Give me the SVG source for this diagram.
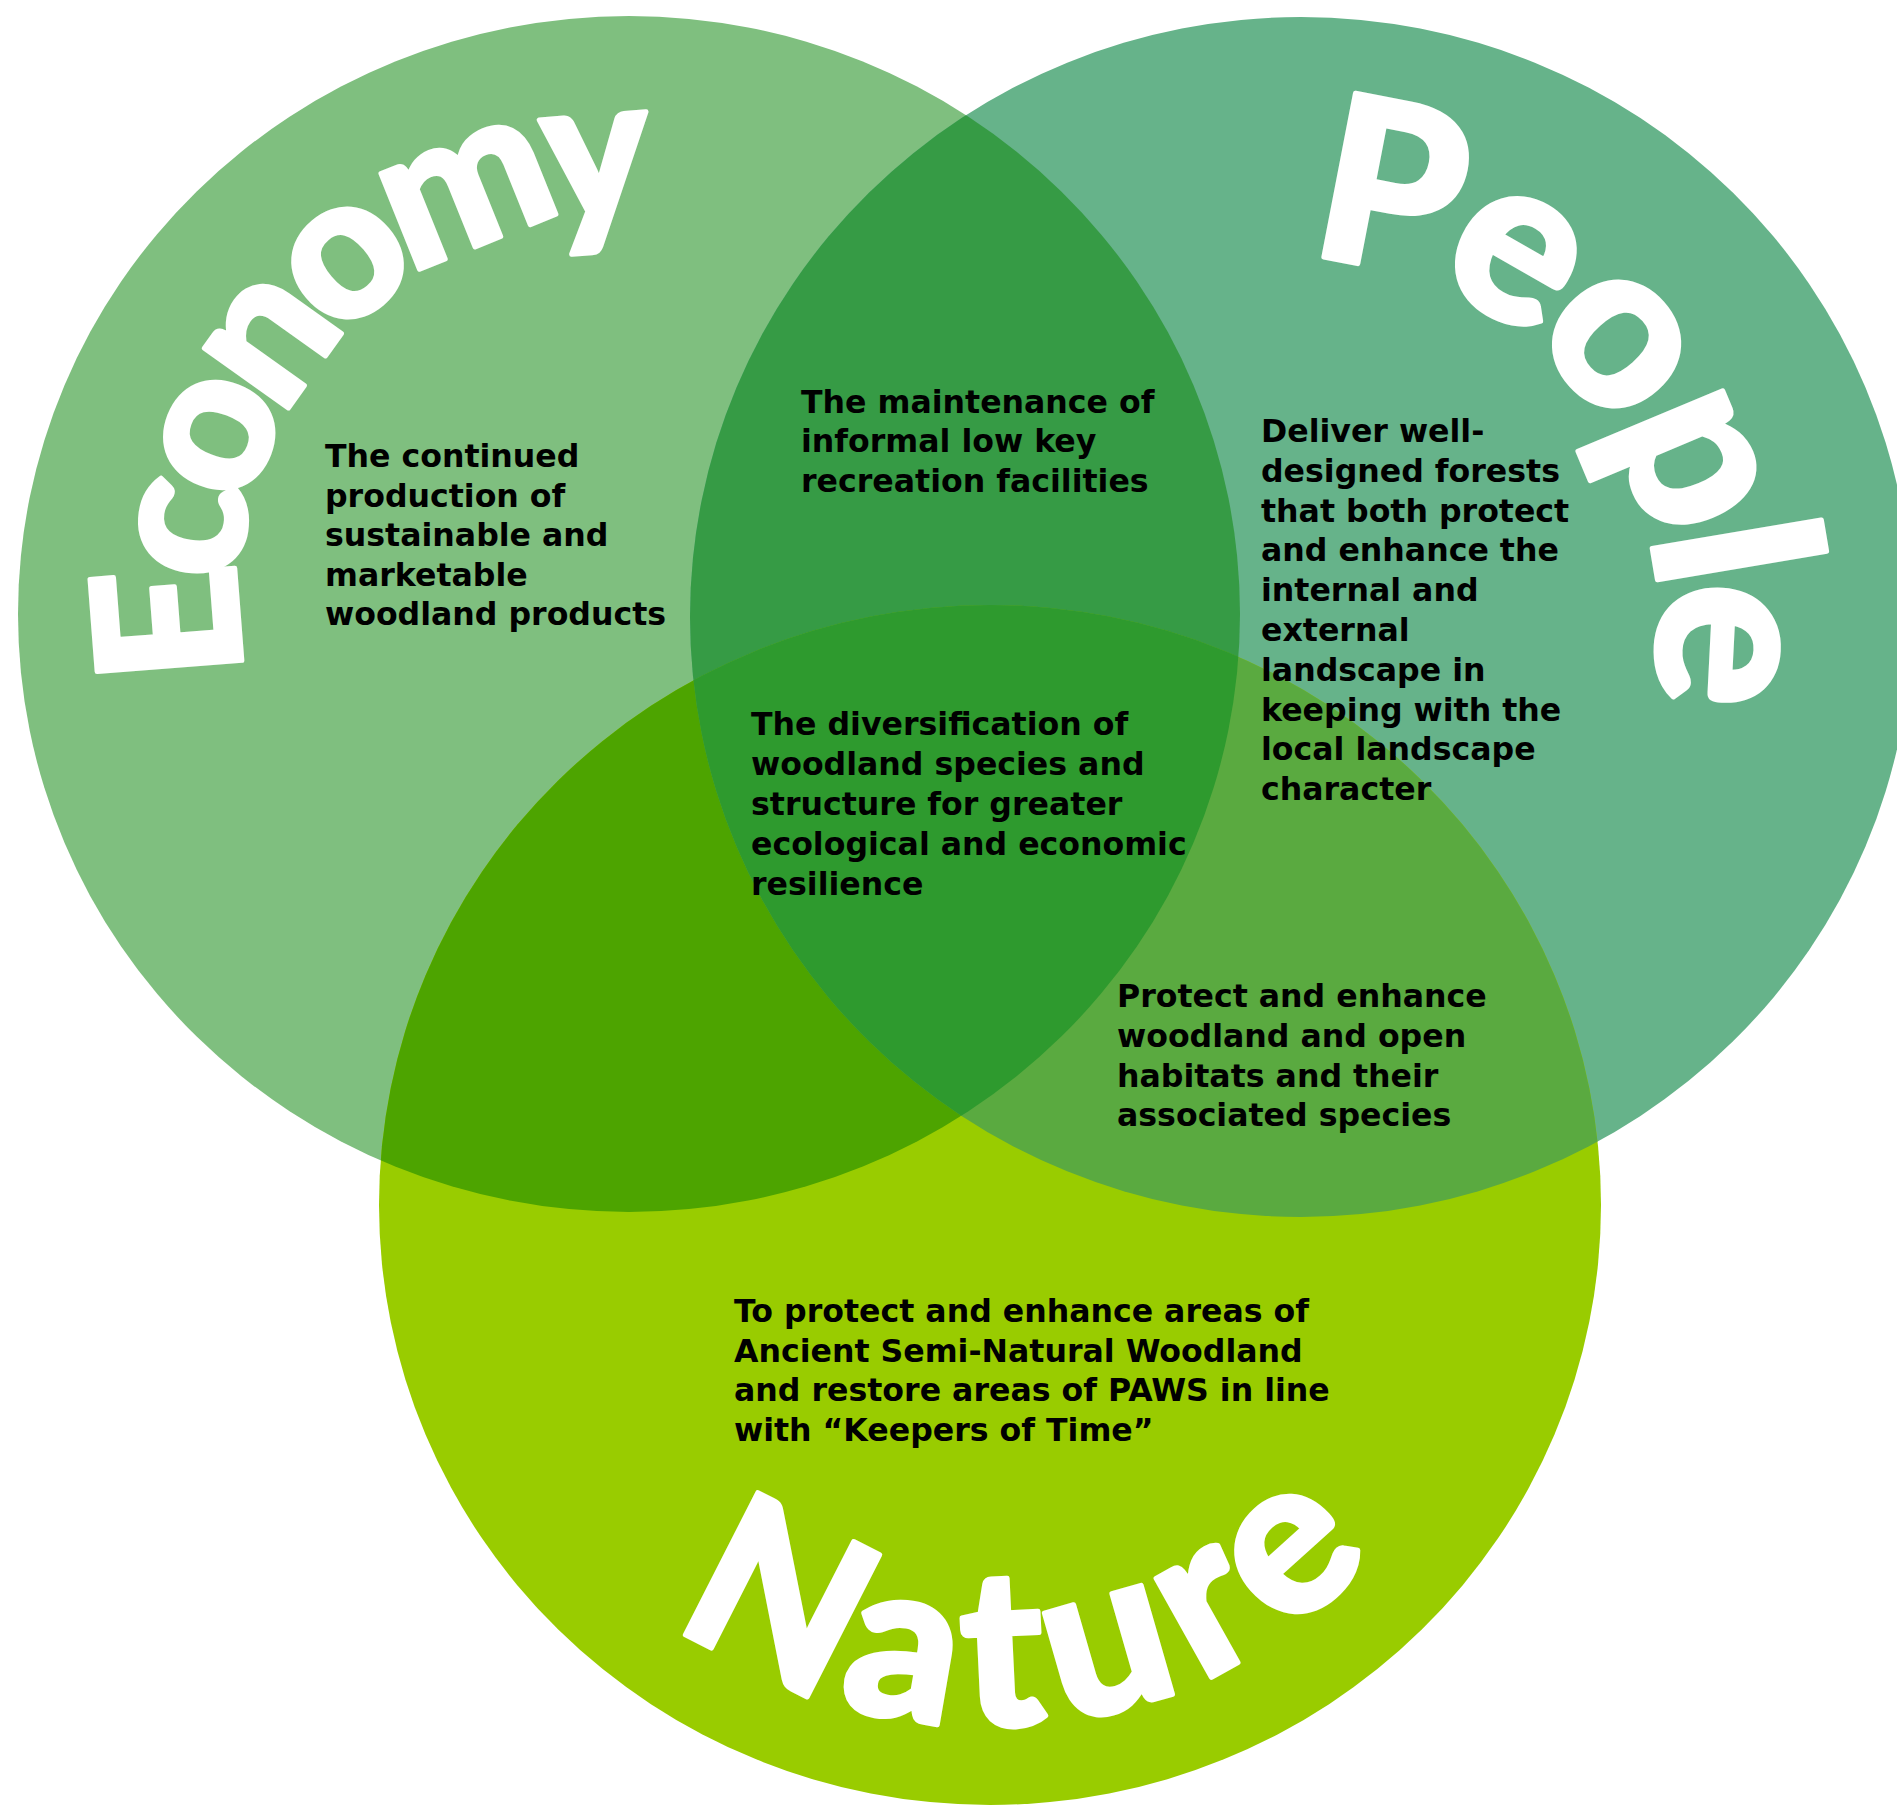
<svg xmlns="http://www.w3.org/2000/svg" width="1897" height="1810" viewBox="0 0 1897 1810">
<defs>
<style>
.body{font-family:"DejaVu Sans",Verdana,sans-serif;font-weight:bold;font-size:31.6px;fill:#000}
.big{font-family:"Lato","Liberation Sans",sans-serif;font-weight:900;fill:#fff;stroke:#fff;stroke-width:5px;stroke-linejoin:round}
</style>
<ellipse id="shE" cx="629" cy="614" rx="611" ry="598"/>
<ellipse id="shP" cx="1301" cy="617" rx="611" ry="600"/>
<ellipse id="shN" cx="990" cy="1205" rx="611" ry="600"/>
<clipPath id="cE"><use href="#shE"/></clipPath>
<clipPath id="cP"><use href="#shP"/></clipPath>
<path id="arcE" d="M289.2,791 A382,382 0 0 1 912.6,354.5" fill="none"/>
<path id="arcP" d="M1122,307 A358,358 0 0 1 1575.2,847.1" fill="none"/>
<path id="arcN" d="M538.7,1466 A520,520 0 0 0 1477.6,1383.9" fill="none"/>
</defs>
<rect width="1897" height="1810" fill="#fff"/>
<g id="regions">
<use id="region-economy" href="#shE" fill="#7FBF7F"/>
<use id="region-people" href="#shP" fill="#66B38A"/>
<use id="region-nature" href="#shN" fill="#99CC00"/>
<g clip-path="url(#cE)"><use id="region-economy-people" href="#shP" fill="#369B45"/></g>
<g clip-path="url(#cE)"><use id="region-economy-nature" href="#shN" fill="#4DA400"/></g>
<g clip-path="url(#cP)"><use id="region-people-nature" href="#shN" fill="#5AAA40"/></g>
<g clip-path="url(#cE)"><g clip-path="url(#cP)"><use id="region-all" href="#shN" fill="#2E9A2E"/></g></g>
</g>
<g id="connectors"/>
<g id="node-economy">
<text class="big" font-size="200" letter-spacing="-19"><textPath href="#arcE" startOffset="469" text-anchor="middle">Economy</textPath></text>
<text class="body"><tspan x="325" y="467">The continued</tspan><tspan x="325" y="506.5">production of</tspan><tspan x="325" y="546">sustainable and</tspan><tspan x="325" y="585.5">marketable</tspan><tspan x="325" y="625">woodland products</tspan></text>
</g>
<g id="node-people">
<text class="big" font-size="230" letter-spacing="-13"><textPath href="#arcP" startOffset="507.4" text-anchor="middle">People</textPath></text>
<text class="body"><tspan x="1261" y="442">Deliver well-</tspan><tspan x="1261" y="481.8">designed forests</tspan><tspan x="1261" y="521.6">that both protect</tspan><tspan x="1261" y="561.4">and enhance the</tspan><tspan x="1261" y="601.2">internal and</tspan><tspan x="1261" y="641">external</tspan><tspan x="1261" y="680.8">landscape in</tspan><tspan x="1261" y="720.6">keeping with the</tspan><tspan x="1261" y="760.4">local landscape</tspan><tspan x="1261" y="800.2">character</tspan></text>
</g>
<g id="node-nature">
<text class="big" font-size="220" letter-spacing="17"><textPath href="#arcN" startOffset="600" text-anchor="middle">Nature</textPath></text>
<text class="body"><tspan x="734" y="1321.7">To protect and enhance areas of</tspan><tspan x="734" y="1361.5">Ancient Semi-Natural Woodland</tspan><tspan x="734" y="1401.3">and restore areas of PAWS in line</tspan><tspan x="734" y="1441.1">with “Keepers of Time”</tspan></text>
</g>
<g id="node-economy-people">
<text class="body"><tspan x="801" y="412.7">The maintenance of</tspan><tspan x="801" y="452.2">informal low key</tspan><tspan x="801" y="491.7">recreation facilities</tspan></text>
</g>
<g id="node-all">
<text class="body"><tspan x="751" y="735">The diversification of</tspan><tspan x="751" y="775">woodland species and</tspan><tspan x="751" y="815">structure for greater</tspan><tspan x="751" y="855">ecological and economic</tspan><tspan x="751" y="895">resilience</tspan></text>
</g>
<g id="node-people-nature">
<text class="body"><tspan x="1117" y="1007.3">Protect and enhance</tspan><tspan x="1117" y="1047">woodland and open</tspan><tspan x="1117" y="1086.7">habitats and their</tspan><tspan x="1117" y="1126.4">associated species</tspan></text>
</g>
</svg>
